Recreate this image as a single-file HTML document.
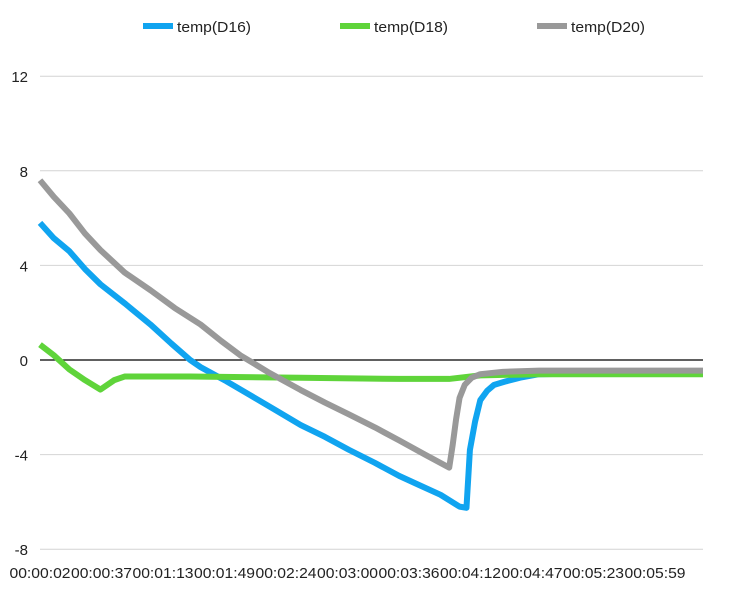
<!DOCTYPE html>
<html><head><meta charset="utf-8"><style>
body{margin:0;background:#fff;width:743px;height:589px;overflow:hidden;font-family:"Liberation Sans",sans-serif}
</style></head><body>
<svg id="chart" width="743" height="589" xmlns="http://www.w3.org/2000/svg" font-family="Liberation Sans, sans-serif">
<g id="legend">
<g><rect x="143" y="23" width="30" height="6" fill="#10a4f0"/><text x="177" y="32" font-size="15" textLength="74" lengthAdjust="spacingAndGlyphs" fill="#222">temp(D16)</text></g>
<g><rect x="340" y="23" width="30" height="6" fill="#5fd43a"/><text x="374" y="32" font-size="15" textLength="74" lengthAdjust="spacingAndGlyphs" fill="#222">temp(D18)</text></g>
<g><rect x="537" y="23" width="30" height="6" fill="#999"/><text x="571" y="32" font-size="15" textLength="74" lengthAdjust="spacingAndGlyphs" fill="#222">temp(D20)</text></g>
</g>
<g id="grid"></g><g id="series"></g><g id="xlabels"></g>
</svg>
<script>
const yTicks=[12,8,4,0,-4,-8];
const xTickLabels=["00:00:02","00:00:37","00:01:13","00:01:49","00:02:24","00:03:00","00:03:36","00:04:12","00:04:47","00:05:23","00:05:59"];
const tD16=[2,10,19,28,37,51,66,78,89,95,110,124,138,153,167,181,196,210,222,234,245,249,251,254,257,261,265,272,280,291,330,386];
const vD16=[5.8,5.15,4.6,3.85,3.2,2.4,1.5,0.7,0,-0.3,-0.9,-1.5,-2.1,-2.75,-3.25,-3.8,-4.35,-4.9,-5.3,-5.7,-6.2,-6.25,-3.8,-2.6,-1.7,-1.3,-1.05,-0.9,-0.75,-0.6,-0.55,-0.55];
const tD18=[2,10,19,28,37,45,51,89,153,210,239,257,291,386];
const vD18=[0.65,0.2,-0.4,-0.85,-1.25,-0.85,-0.7,-0.7,-0.75,-0.8,-0.8,-0.65,-0.6,-0.6];
const tD20=[2,10,19,28,37,51,66,80,95,107,118,135,153,167,181,196,210,225,239,241,243,245,248,252,257,270,291,386];
const vD20=[7.6,6.9,6.2,5.35,4.65,3.7,2.95,2.2,1.5,0.8,0.2,-0.55,-1.27,-1.8,-2.3,-2.85,-3.4,-4.0,-4.55,-3.6,-2.5,-1.6,-1.05,-0.75,-0.6,-0.5,-0.45,-0.45];
const X0=40,X1=703,TMIN=2,TMAX=386;
const xs=t=>X0+(t-TMIN)/(TMAX-TMIN)*(X1-X0);
const ys=v=>360-v*23.65;
const NS="http://www.w3.org/2000/svg";
const grid=document.getElementById('grid');
yTicks.forEach(v=>{
 const l=document.createElementNS(NS,'line');
 
 
 l.setAttribute('x1',X0);l.setAttribute('x2',X1);l.setAttribute('y1',ys(v));l.setAttribute('y2',ys(v));
 l.setAttribute('stroke',v===0?'#000':'#d4d4d4');l.setAttribute('stroke-width',v===0?1.3:1);
 grid.appendChild(l);
 const t=document.createElementNS(NS,'text');
 
 
 t.setAttribute('x',28);t.setAttribute('y',ys(v)+6);t.setAttribute('text-anchor','end');t.setAttribute('font-size','15');t.setAttribute('fill','#222');
 t.textContent=v;grid.appendChild(t);
});
const xl=document.getElementById('xlabels');
xTickLabels.forEach((s,i)=>{
 const t=document.createElementNS(NS,'text');
 
 
 t.setAttribute('x',X0+i*61.5-30.5);t.setAttribute('y',578);t.setAttribute('font-size','15');t.setAttribute('fill','#222');
 t.setAttribute('textLength','61');t.setAttribute('lengthAdjust','spacingAndGlyphs');
 t.textContent=s;xl.appendChild(t);
});
const ser=document.getElementById('series');
function line(ts,vs,color,name){
 const p=document.createElementNS(NS,'polyline');
 
 
 p.setAttribute('points',ts.map((t,i)=>xs(t)+','+ys(vs[i])).join(' '));
 p.setAttribute('fill','none');p.setAttribute('stroke',color);p.setAttribute('stroke-width',6);p.setAttribute('stroke-linejoin','round');
 ser.appendChild(p);
}
line(tD16,vD16,'#10a4f0','series-d16');
line(tD18,vD18,'#5fd43a','series-d18');
line(tD20,vD20,'#999','series-d20');
</script>
</body></html>
